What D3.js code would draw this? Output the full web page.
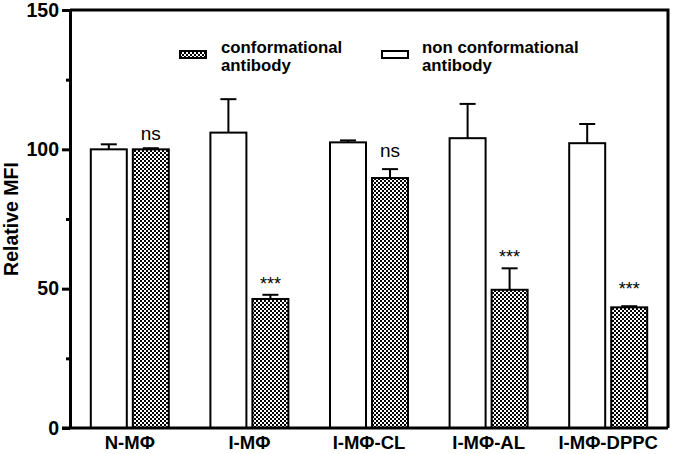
<!DOCTYPE html>
<html><head><meta charset="utf-8">
<script src="https://cdn.jsdelivr.net/npm/d3@7"></script>
<style>body{margin:0;background:#fff}svg{display:block}</style>
</head><body>
<svg id="c" width="673" height="454"></svg>
<script>
const categories = ["N-M\u03A6","I-M\u03A6","I-M\u03A6-CL","I-M\u03A6-AL","I-M\u03A6-DPPC"];
const seriesNames = ["non conformational antibody","conformational antibody"];
const nonConf = [100, 106, 102.5, 104, 102.2];
const nonConfErr = [1.8, 12, 0.7, 12.3, 6.9];
const conf = [100, 46.3, 89.7, 49.6, 43.3];
const confErr = [0.4, 1.5, 3.2, 7.7, 0.4];
const annotText = ["ns","***","ns","***","***"];
const annotValue = [103.3, 49.5, 97.3, 59.2, 47.9];
const yTicks = [0, 50, 100, 150];
const yMinorTicks = [25, 75, 125];

const FONT = "Liberation Sans, Arial, sans-serif";
const svg = d3.select("#c");
const L = 70, R = 668, T = 10, B = 428;
const y = d3.scaleLinear().domain([0,150]).range([B,T]);
const x = d3.scaleBand().domain(categories).range([L,R]).padding(0);
const groupW = 78;
const xs = d3.scaleBand().domain([0,1]).range([0,groupW]).paddingInner(0.143);
const off = (x.bandwidth()-groupW)/2;

const defs = svg.append("defs");
const pat = defs.append("pattern").attr("id","chk").attr("patternUnits","userSpaceOnUse")
  .attr("width",4).attr("height",4);
pat.append("rect").attr("width",4).attr("height",4).attr("fill","#fff");
pat.append("rect").attr("width",2).attr("height",2).attr("fill","#000");
pat.append("rect").attr("x",2).attr("y",2).attr("width",2).attr("height",2).attr("fill","#000");

const rows = [];
categories.forEach((c,i)=>{
  rows.push({c, s:0, v:nonConf[i], e:nonConfErr[i]});
  rows.push({c, s:1, v:conf[i], e:confErr[i]});
});
const g = svg.append("g");
rows.forEach(d=>{
  const x0 = x(d.c)+off+xs(d.s), w = xs.bandwidth(), cx = x0+w/2;
  const yt = y(d.v), ye = y(d.v+d.e);
  g.append("line").attr("x1",cx).attr("x2",cx).attr("y1",yt).attr("y2",ye).attr("stroke","#000").attr("stroke-width",2);
  g.append("line").attr("x1",cx-8).attr("x2",cx+8).attr("y1",ye).attr("y2",ye).attr("stroke","#000").attr("stroke-width",2);
  g.append("rect").attr("x",x0).attr("y",yt).attr("width",w).attr("height",y(0)-yt)
    .attr("fill", d.s===1 ? "url(#chk)" : "#fff").attr("stroke","#000").attr("stroke-width",2);
});

// annotations
categories.forEach((c,i)=>{
  const cx = x(c)+off+xs(1)+xs.bandwidth()/2;
  svg.append("text").attr("x",cx).attr("y",y(annotValue[i])).attr("text-anchor","middle")
    .attr("font-family",FONT).attr("font-size",annotText[i]==="ns"?19:18)
    .attr("fill","#000").text(annotText[i]);
});

// frame
svg.append("path").attr("d",`M${L},${T}H${R}V${B}`).attr("fill","none").attr("stroke","#000").attr("stroke-width",3);

// y axis
const ya = svg.append("g").attr("transform",`translate(${L},0)`)
  .call(d3.axisLeft(y).tickValues(yTicks).tickSize(8).tickSizeOuter(0).tickPadding(3));
ya.select(".domain").attr("stroke-width",3);
ya.selectAll(".tick line").attr("stroke-width",3);
ya.selectAll("text").attr("font-family",FONT).attr("font-weight","bold").attr("font-size",19.5).attr("fill","#000");
const ym = svg.append("g").attr("transform",`translate(${L},0)`)
  .call(d3.axisLeft(y).tickValues(yMinorTicks).tickSize(4).tickFormat(""));
ym.select(".domain").remove();
ym.selectAll(".tick line").attr("stroke-width",3);

// x axis
const xa = svg.append("g").attr("transform",`translate(0,${B})`)
  .call(d3.axisBottom(x).tickSize(0).tickPadding(8));
xa.select(".domain").attr("stroke-width",3).attr("d",`M${L-8},0H${R}`);
xa.selectAll("text").attr("font-family",FONT).attr("font-weight","bold").attr("font-size",18.5).attr("fill","#000");

// y label
svg.append("text").attr("transform",`translate(18,${(T+B)/2}) rotate(-90)`).attr("text-anchor","middle")
  .attr("font-family",FONT).attr("font-weight","bold").attr("font-size",19.5).text("Relative MFI");

// legend
const leg = [
  {s:1, rx:180, tx:221, lines:["conformational","antibody"]},
  {s:0, rx:382, tx:422, lines:["non conformational","antibody"]}
];
leg.forEach(l=>{
  svg.append("rect").attr("x",l.rx).attr("y",51).attr("width",26).attr("height",7)
    .attr("fill", l.s===1?"url(#chk)":"#fff").attr("stroke","#000").attr("stroke-width",2);
  l.lines.forEach((ln,k)=> svg.append("text").attr("x",l.tx).attr("y",53+k*18).attr("font-family",FONT)
    .attr("font-weight","bold").attr("font-size",16.8).text(ln));
});
</script>
</body></html>
